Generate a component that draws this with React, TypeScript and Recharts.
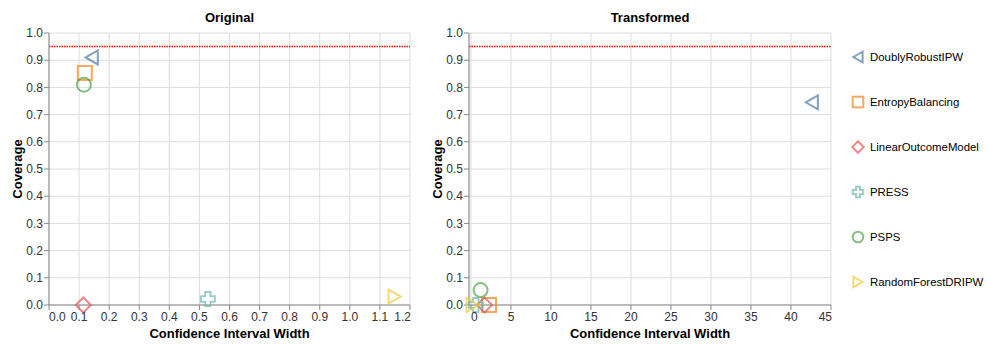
import {
  ScatterChart,
  Scatter,
  XAxis,
  YAxis,
  CartesianGrid,
  ReferenceLine,
} from "recharts";

// ── data ────────────────────────────────────────────────────────────────────
const METHODS = [
  "DoublyRobustIPW",
  "EntropyBalancing",
  "LinearOutcomeModel",
  "PRESS",
  "PSPS",
  "RandomForestDRIPW",
];

const ORIGINAL_CI_WIDTH = [0.142, 0.119, 0.114, 0.528, 0.116, 1.149];
const ORIGINAL_COVERAGE = [0.91, 0.853, 0.0, 0.022, 0.81, 0.031];

const TRANSFORMED_CI_WIDTH = [42.6, 2.25, 1.7, 0.6, 1.2, 0.2];
const TRANSFORMED_COVERAGE = [0.745, 0.0, 0.0, 0.0, 0.055, 0.0];

const ORIGINAL_X_TICKS = [0, 0.1, 0.2, 0.3, 0.4, 0.5, 0.6, 0.7, 0.8, 0.9, 1.0, 1.1, 1.2];
const TRANSFORMED_X_TICKS = [0, 5, 10, 15, 20, 25, 30, 35, 40, 45];
const COVERAGE_TICKS = [0, 0.1, 0.2, 0.3, 0.4, 0.5, 0.6, 0.7, 0.8, 0.9, 1.0];

const NOMINAL_COVERAGE = 0.95;

// ── styles ──────────────────────────────────────────────────────────────────
const METHOD_COLORS = ["#4c78a8", "#f58518", "#e45756", "#72b7b2", "#54a24b", "#eeca3b"];
const METHOD_SHAPES = ["triangle-left", "square", "diamond", "cross", "circle", "triangle-right"];

const FONT = "'Liberation Sans', Arial, Helvetica, sans-serif";
const CHART_H = 345;
const Y_AXIS_W = 49;
const X_AXIS_H = 40;
const PLOT_TOP = 33;

function Marker({
  shape,
  cx,
  cy,
  r,
  color,
}: {
  shape: string;
  cx: number;
  cy: number;
  r: number;
  color: string;
}) {
  const common = { fill: "none", stroke: color, strokeWidth: 2, opacity: 0.7 };
  if (shape === "circle") return <circle cx={cx} cy={cy} r={r} {...common} />;
  if (shape === "square")
    return <rect x={cx - r} y={cy - r} width={2 * r} height={2 * r} {...common} />;
  if (shape === "diamond") {
    const d = r * 1.08;
    return (
      <polygon
        points={`${cx},${cy - d} ${cx + d},${cy} ${cx},${cy + d} ${cx - d},${cy}`}
        {...common}
      />
    );
  }
  if (shape === "triangle-left" || shape === "triangle-right") {
    const w = r * 0.87;
    const s = shape === "triangle-left" ? 1 : -1;
    return (
      <polygon
        points={`${cx - s * w},${cy} ${cx + s * w},${cy - r} ${cx + s * w},${cy + r}`}
        strokeLinejoin="miter"
        {...common}
      />
    );
  }
  // cross
  const a = r * 0.38;
  const pts = [
    [-a, -r], [a, -r], [a, -a], [r, -a], [r, a], [a, a],
    [a, r], [-a, r], [-a, a], [-r, a], [-r, -a], [-a, -a],
  ]
    .map(([px, py]) => `${cx + px},${cy + py}`)
    .join(" ");
  return <polygon points={pts} {...common} />;
}

function makeXTick(fmt: (v: number) => string, count: number) {
  return (props: any) => {
    const { x, y, payload, index } = props;
    const anchor = index === 0 ? "start" : index === count - 1 ? "end" : "middle";
    const dx = index === count - 1 ? 1 : 0;
    return (
      <text
        x={Number(x) + dx}
        y={y}
        dy="0.71em"
        textAnchor={anchor}
        fill="#333"
        fontSize={12}
        fontFamily={FONT}
      >
        {fmt(payload.value)}
      </text>
    );
  };
}

function Panel({
  title,
  xs,
  ys,
  xTicks,
  xDomain,
  fmt,
  left,
  width,
  marginRight,
}: {
  title: string;
  xs: number[];
  ys: number[];
  xTicks: number[];
  xDomain: [number, number];
  fmt: (v: number) => string;
  left: number;
  width: number;
  marginRight: number;
}) {
  const plotW = width - Y_AXIS_W - marginRight;
  return (
    <div style={{ position: "absolute", left, top: 0, width, height: CHART_H }}>
      <div
        style={{
          position: "absolute",
          left: Y_AXIS_W,
          width: plotW,
          top: 11,
          lineHeight: "13px",
          fontSize: 13,
          fontWeight: "bold",
          textAlign: "center",
          color: "#000",
        }}
      >
        {title}
      </div>
      <ScatterChart
        width={width}
        height={CHART_H}
        margin={{ top: PLOT_TOP, right: marginRight, left: 0, bottom: 0 }}
      >
        <CartesianGrid stroke="#ddd" fill="none" />
        <XAxis
          type="number"
          dataKey="x"
          domain={xDomain}
          ticks={xTicks}
          interval={0}
          height={X_AXIS_H}
          stroke="#888"
          tickSize={5}
          tickMargin={2}
          tick={makeXTick(fmt, xTicks.length)}
          label={(p: any) => {
            const vb = p.viewBox ?? { x: Y_AXIS_W, y: CHART_H - X_AXIS_H, width: plotW };
            return (
              <text
                x={vb.x + vb.width / 2}
                y={vb.y + 33}
                textAnchor="middle"
                fontSize={13}
                fontWeight="bold"
                fill="#000"
                fontFamily={FONT}
              >
                Confidence Interval Width
              </text>
            );
          }}
        />
        <YAxis
          type="number"
          dataKey="y"
          domain={[0, 1]}
          ticks={COVERAGE_TICKS}
          interval={0}
          width={Y_AXIS_W}
          stroke="#888"
          tickSize={5}
          tickMargin={1}
          tick={{ fill: "#333", fontSize: 12, fontFamily: FONT }}
          tickFormatter={(v: number) => v.toFixed(1)}
          label={(p: any) => {
            const vb = p.viewBox ?? { x: 0, y: PLOT_TOP, height: CHART_H - PLOT_TOP - X_AXIS_H };
            const cx = vb.x + 22;
            const cy = vb.y + vb.height / 2;
            return (
              <text
                x={cx}
                y={cy}
                transform={`rotate(-90, ${cx}, ${cy})`}
                textAnchor="middle"
                fontSize={13}
                fontWeight="bold"
                fill="#000"
                fontFamily={FONT}
              >
                Coverage
              </text>
            );
          }}
        />
        <ReferenceLine
          y={NOMINAL_COVERAGE}
          stroke="#ff0000"
          strokeWidth={1.5}
          strokeDasharray="1.5 1"
        />
        {METHODS.map((m, i) => (
          <Scatter
            key={m}
            name={m}
            data={[{ x: xs[i], y: ys[i] }]}
            isAnimationActive={false}
            shape={(p: any) => (
              <Marker
                shape={METHOD_SHAPES[i]}
                cx={p.cx}
                cy={p.cy}
                r={7}
                color={METHOD_COLORS[i]}
              />
            )}
          />
        ))}
      </ScatterChart>
    </div>
  );
}

function MethodLegend() {
  return (
    <div style={{ position: "absolute", left: 850, top: 0, width: 137, height: CHART_H }}>
      {METHODS.map((m, i) => (
        <div
          key={m}
          style={{
            position: "absolute",
            top: 56.5 + i * 45.1 - 8,
            left: 0,
            height: 16,
            display: "flex",
            alignItems: "center",
            whiteSpace: "nowrap",
          }}
        >
          <svg width={16} height={16} style={{ display: "block", flexShrink: 0 }}>
            <Marker shape={METHOD_SHAPES[i]} cx={8} cy={8} r={5.3} color={METHOD_COLORS[i]} />
          </svg>
          <span style={{ marginLeft: 4, fontSize: 11.4, color: "#000" }}>{m}</span>
        </div>
      ))}
    </div>
  );
}

export default function App() {
  return (
    <div
      style={{
        position: "absolute",
        left: 0,
        top: 0,
        width: 987,
        height: CHART_H,
        background: "#fff",
        fontFamily: FONT,
      }}
    >
      <Panel
        title="Original"
        xs={ORIGINAL_CI_WIDTH}
        ys={ORIGINAL_COVERAGE}
        xTicks={ORIGINAL_X_TICKS}
        xDomain={[0, 1.2]}
        fmt={(v) => v.toFixed(1)}
        left={0}
        width={420}
        marginRight={10}
      />
      <Panel
        title="Transformed"
        xs={TRANSFORMED_CI_WIDTH}
        ys={TRANSFORMED_COVERAGE}
        xTicks={TRANSFORMED_X_TICKS}
        xDomain={[-0.25, 45]}
        fmt={(v) => String(v)}
        left={420}
        width={420}
        marginRight={9}
      />
      <MethodLegend />
    </div>
  );
}
